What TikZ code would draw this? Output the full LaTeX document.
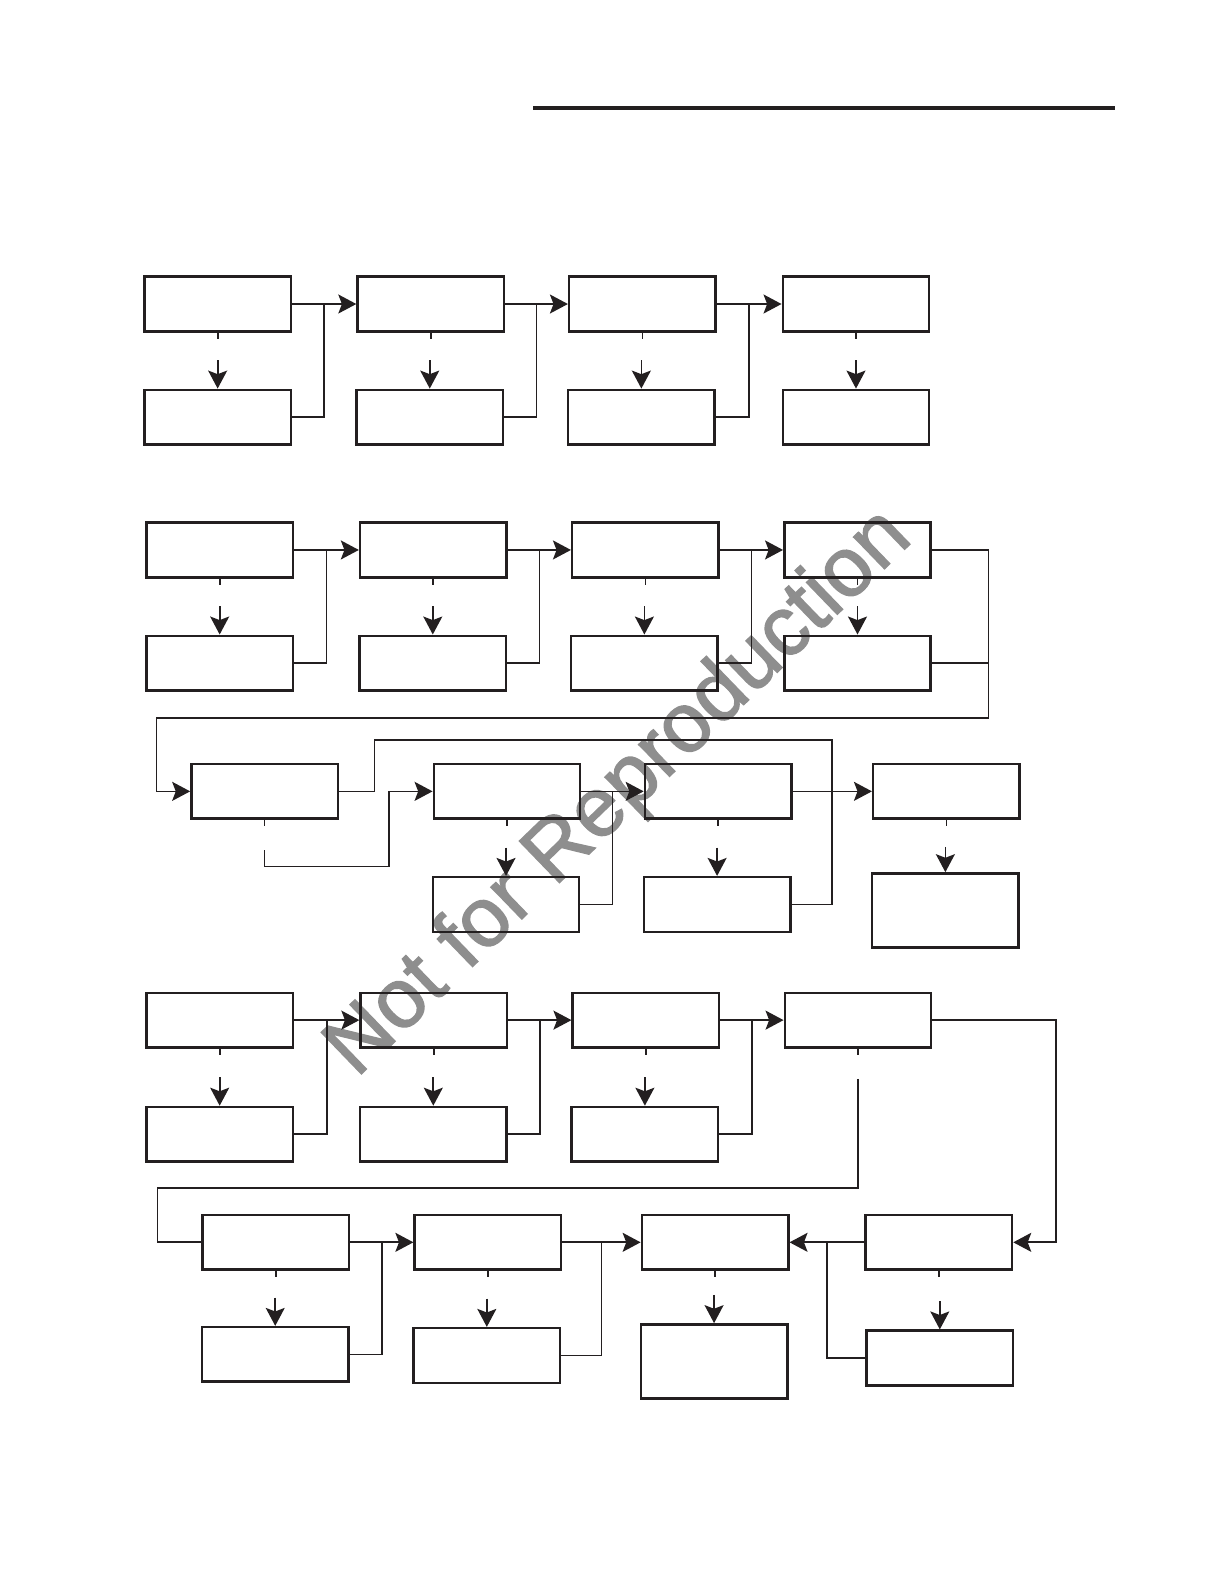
\documentclass[tikz,border=0pt]{standalone}
\usepackage{fontspec}
\newfontfamily\wmfont[FakeBold=1.6]{Liberation Sans}
\usetikzlibrary{calc, positioning, arrows.meta}
\definecolor{ink}{HTML}{231F20}
\definecolor{wmgray}{HTML}{8E8E8E}

\begin{document}
\begin{tikzpicture}
  [x=0.505pt, y=-0.505pt,
   box/.style={draw=ink, line width=1.25pt, minimum width=73.2pt, minimum height=27.3pt, inner sep=0pt},
   tallbox/.style={box, minimum height=37.1pt},
   line/.style={draw=ink, line width=0.85pt},
   arr/.style={line, -{Stealth[length=9pt, width=9.5pt, inset=1.8pt]}},
   wm/.style={text=wmgray, font=\wmfont\fontsize{42}{42}\selectfont, rotate=44}]
  \useasboundingbox (0,0) rectangle (1212,1568.3);

  % watermark %
  \node[wm] (wmark) at (614,786) {Not for Reproduction};

  % rule %
  \draw[ink, line width=1.85pt] (528,107) -- (1104,107);

  % block 1 %
  \node[box] (a1) at (215.5,301) {};
  \node[box] (a2) at (426.5,301) {};
  \node[box] (a3) at (636,301) {};
  \node[box] (a4) at (847.5,301) {};
  \node[box] (b1) at (215.5,413) {};
  \node[box] (b2) at (425.5,413) {};
  \node[box] (b3) at (635,413) {};
  \node[box] (b4) at (847.5,413) {};

  % block 2 %
  \node[box] (c1) at (217.5,544.5) {};
  \node[box] (c2) at (429,544.5) {};
  \node[box] (c3) at (639,544.5) {};
  \node[box] (c4) at (849,544.5) {};
  \node[box] (d1) at (217.5,656.5) {};
  \node[box] (d2) at (428.5,656.5) {};
  \node[box] (d3) at (638,656.5) {};
  \node[box] (d4) at (849,656.5) {};

  % block 3 %
  \node[box] (e1) at (262,783.5) {};
  \node[box] (e2) at (502,783.5) {};
  \node[box] (e3) at (711,783.5) {};
  \node[box] (e4) at (937,783.5) {};
  \node[box] (f2) at (501,895.5) {};
  \node[box] (f3) at (710,895.5) {};
  \node[tallbox] (f4) at (936,901.5) {};

  % block 4 %
  \node[box] (g1) at (217.5,1010) {};
  \node[box] (g2) at (429.5,1010) {};
  \node[box] (g3) at (639.5,1010) {};
  \node[box] (g4) at (849.5,1010) {};
  \node[box] (h1) at (217.5,1123) {};
  \node[box] (h2) at (429,1123) {};
  \node[box] (h3) at (638.5,1123) {};

  % block 5 %
  \node[box] (i1) at (273,1230) {};
  \node[box] (i2) at (483,1230) {};
  \node[box] (i3) at (708,1230) {};
  \node[box] (i4) at (929.5,1230) {};
  \node[box] (j1) at (272.5,1341) {};
  \node[box] (j2) at (482,1342) {};
  \node[tallbox] (j3) at (707,1348) {};
  \node[box] (j4) at (930.5,1344.5) {};

  % down edges %
  \draw[arr] (a1.south) -- ++(0,6) ($(b1.north)+(0,-28)$) -- (b1.north);
  \draw[arr] (a2.south) -- ++(0,6) ($(b2.north)+(0,-28)$) -- (b2.north);
  \draw[arr] (a3.south) -- ++(0,6) ($(b3.north)+(0,-28)$) -- (b3.north);
  \draw[arr] (a4.south) -- ++(0,6) ($(b4.north)+(0,-28)$) -- (b4.north);
  \draw[arr] (c1.south) -- ++(0,6) ($(d1.north)+(0,-28)$) -- (d1.north);
  \draw[arr] (c2.south) -- ++(0,6) ($(d2.north)+(0,-28)$) -- (d2.north);
  \draw[arr] (c3.south) -- ++(0,6) ($(d3.north)+(0,-28)$) -- (d3.north);
  \draw[arr] (c4.south) -- ++(0,6) ($(d4.north)+(0,-28)$) -- (d4.north);
  \draw[line] (e1.south) -- ++(0,6);
  \draw[arr] (e2.south) -- ++(0,6) ($(f2.north)+(0,-28)$) -- (f2.north);
  \draw[arr] (e3.south) -- ++(0,6) ($(f3.north)+(0,-28)$) -- (f3.north);
  \draw[arr] (e4.south) -- ++(0,6) ($(f4.north)+(0,-25)$) -- (f4.north);
  \draw[arr] (g1.south) -- ++(0,6) ($(h1.north)+(0,-28)$) -- (h1.north);
  \draw[arr] (g2.south) -- ++(0,6) ($(h2.north)+(0,-28)$) -- (h2.north);
  \draw[arr] (g3.south) -- ++(0,6) ($(h3.north)+(0,-28)$) -- (h3.north);
  \draw[line] (g4.south) -- ++(0,6);
  \draw[arr] (i1.south) -- ++(0,6) ($(j1.north)+(0,-28)$) -- (j1.north);
  \draw[arr] (i2.south) -- ++(0,6) ($(j2.north)+(0,-28)$) -- (j2.north);
  \draw[arr] (i3.south) -- ++(0,6) ($(j3.north)+(0,-28)$) -- (j3.north);
  \draw[arr] (i4.south) -- ++(0,6) ($(j4.north)+(0,-28)$) -- (j4.north);

  % block 1 edges %
  \draw[arr] (a1.east) -- (a2.west);
  \draw[arr] (a2.east) -- (a3.west);
  \draw[arr] (a3.east) -- (a4.west);
  \draw[line] (b1.east) -| ($(a1.east)!.5!(a2.west)$);
  \draw[line] (b2.east) -| ($(a2.east)!.5!(a3.west)$);
  \draw[line] (b3.east) -| ($(a3.east)!.5!(a4.west)$);

  % block 2 edges %
  \draw[arr] (c1.east) -- (c2.west);
  \draw[arr] (c2.east) -- (c3.west);
  \draw[arr] (c3.east) -- (c4.west);
  \draw[line] (d1.east) -| ($(c1.east)!.5!(c2.west)$);
  \draw[line] (d2.east) -| ($(c2.east)!.5!(c3.west)$);
  \draw[line] (d3.east) -| ($(c3.east)!.5!(c4.west)$);
  \coordinate (loop2) at ($(c4.east)+(56,0)$);
  \draw[line] (c4.east) -- (loop2) |- (d4.east);
  \draw[arr] (loop2) |- (155,711) |- (e1.west);

  % block 3 edges %
  \draw[line] (e1.east) -- ++(35,0) |- (824,733) |- (f3.east);
  \draw[arr] ($(e1.south)+(0,30)$) -- ++(0,16) -| ($(e2.west)+(-43,0)$) -- (e2.west);
  \draw[arr] (e2.east) -- (e3.west);
  \draw[line] (f2.east) -| ($(e2.east)!.5!(e3.west)$);
  \draw[arr] (e3.east) -- (e4.west);

  % block 4 edges %
  \draw[arr] (g1.east) -- (g2.west);
  \draw[arr] (g2.east) -- (g3.west);
  \draw[arr] (g3.east) -- (g4.west);
  \draw[line] (h1.east) -| ($(g1.east)!.5!(g2.west)$);
  \draw[line] (h2.east) -| ($(g2.east)!.5!(g3.west)$);
  \draw[line] (h3.east) -| ($(g3.east)!.5!(g4.west)$);
  \draw[arr] (g4.east) -- ++(122,0) |- (i4.east);
  \draw[line] ($(g4.south)+(0,30)$) |- (156,1176) |- (i1.west);

  % block 5 edges %
  \draw[arr] (i1.east) -- (i2.west);
  \draw[arr] (i2.east) -- (i3.west);
  \draw[arr] (i4.west) -- (i3.east);
  \draw[line] (j1.east) -| ($(i1.east)!.5!(i2.west)$);
  \draw[line] (j2.east) -| ($(i2.east)!.5!(i3.west)$);
  \draw[line] (j4.west) -| ($(i3.east)!.5!(i4.west)$);
\end{tikzpicture}
\end{document}
